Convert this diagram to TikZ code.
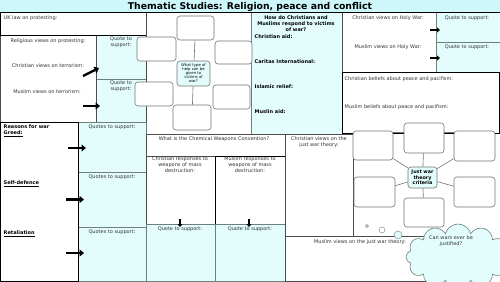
\documentclass[tikz,border=0pt]{standalone}
\usepackage{fontspec}
\setmainfont{DejaVu Sans}
\usetikzlibrary{arrows.meta,shapes.symbols}
\definecolor{cellcyan}{HTML}{E3FDFD}
\definecolor{barcyan}{HTML}{CDF7FA}
\definecolor{edgegrey}{HTML}{6E7F80}

\begin{document}
\begin{tikzpicture}[x=1pt,y=-1pt,
  cell/.style={draw=black!70,line width=0.5pt},
  quote/.style={fill=cellcyan,draw=edgegrey,line width=0.5pt},
  heavy/.style={draw=black,line width=0.9pt},
  txt/.style={font=\fontsize{5}{6}\selectfont,text=black!80,inner sep=0.5pt,align=center},
  btxt/.style={font=\fontsize{5}{6}\selectfont\bfseries,text=black,inner sep=0.5pt,align=center},
  bubble/.style={draw=black!55,line width=0.6pt,rounded corners=3pt,fill=white,inner sep=0pt},
  hub/.style={bubble,fill=cellcyan,align=center,inner sep=0.5pt},
  fatarrow/.style={line width=2.4pt,-{Triangle[length=4.5pt,width=7pt]}},
  thinarrow/.style={line width=1.6pt,-{Triangle[length=3pt,width=5pt]}}]
\useasboundingbox (0,0) rectangle (500,281);
\clip (0,0) rectangle (500,281);
\fill[white] (0,0) rectangle (500,281);
\fill[barcyan] (0,0) rectangle (500,12.5);
\node[font=\fontsize{9.3}{10}\selectfont\bfseries,inner sep=0pt] (title) at (250,6.6) {Thematic Studies: Religion, peace and conflict};

\draw[quote] (96,35) rectangle (146,79);
\draw[quote] (96,79) rectangle (146,122);
\draw[cell] (0,35) rectangle (96,122);
\draw[heavy] (0,12.5) rectangle (146,35);
\draw[cell] (146,12.5) rectangle (251,134);
\draw[quote] (251,12.5) rectangle (342,134);
\draw[cell] (342,12.5) rectangle (436,72);
\draw[quote] (436,12.5) rectangle (500,42);
\draw[quote] (436,42) rectangle (500,72);
\draw[heavy] (342,72) rectangle (499.5,133);
\draw[quote] (78,122) rectangle (146,172);
\draw[quote] (78,172) rectangle (146,227);
\draw[quote] (78,227) rectangle (146,281);
\draw[heavy] (0,122) rectangle (78,281);
\draw[cell] (146,134) rectangle (285,156);
\draw[cell] (146,156) rectangle (215,224);
\draw[heavy] (215,156) rectangle (285,224);
\draw[quote] (146,224) rectangle (215,281);
\draw[quote] (215,224) rectangle (285,281);
\draw[cell] (285,134) rectangle (353,236);
\draw[cell] (285,236) rectangle (435,281);
\draw[line width=0.8pt] (0,12.5) -- (500,12.5);

\node[txt,anchor=west] (uklaw) at (3,18) {UK law on protesting:};
\node[txt] (relprot) at (48,41) {Religious views on protesting:};
\node[txt] (chrterr) at (48,66) {Christian views on terrorism:};
\node[txt] (musterr) at (47,92) {Muslim views on terrorism:};
\node[txt] (q1) at (121,42.5) {Quote to\\support:};
\node[txt] (q2) at (121,86.5) {Quote to\\support:};
\coordinate (a1s) at (83,76);
\coordinate (a1e) at (99,68);
\coordinate (a2s) at (83,106);
\coordinate (a2e) at (100,106);
\draw[fatarrow] (a1s) -- (a1e);
\draw[fatarrow] (a2s) -- (a2e);

\node[bubble,minimum width=37,minimum height=24] (htop) at (195.5,28) {};
\node[bubble,minimum width=39,minimum height=24] (hlt) at (156.5,49) {};
\node[bubble,minimum width=37,minimum height=23] (hrt) at (233.5,52.5) {};
\node[bubble,minimum width=38,minimum height=24] (hlb) at (154,94) {};
\node[bubble,minimum width=37,minimum height=24] (hrb) at (231.5,97) {};
\node[bubble,minimum width=38,minimum height=25] (hbot) at (192,117.5) {};
\node[hub,minimum width=33,minimum height=25,font=\fontsize{3.8}{4}\selectfont] (helphub) at (193.5,73.5) {What type of\\help can be\\given to\\victims of\\war?};
\draw[black!55,line width=0.6pt] (helphub) -- (htop);
\draw[black!55,line width=0.6pt] (helphub) -- (hbot);

\node[btxt] (victims) at (296,24) {How do Christians and\\Muslims respond to victims\\of war?};
\node[btxt,anchor=west] (chraid) at (254,37) {Christian aid:};
\node[btxt,anchor=west] (caritas) at (254,62) {Caritas International:};
\node[btxt,anchor=west] (islrel) at (254,87) {Islamic relief:};
\node[btxt,anchor=west] (musaid) at (254,112) {Muslin aid:};

\node[txt] (chrholy) at (388,18) {Christian views on Holy War:};
\node[txt] (musholy) at (388,47) {Muslim views on Holy War:};
\node[txt] (q3) at (467,18) {Quote to support:};
\node[txt] (q4) at (467,47) {Quote to support:};
\coordinate (a3s) at (430,30);
\coordinate (a3e) at (440,30);
\coordinate (a4s) at (430,58);
\coordinate (a4e) at (440,58);
\draw[thinarrow] (a3s) -- (a3e);
\draw[thinarrow] (a4s) -- (a4e);

\node[txt,anchor=west] (chrpeace) at (344,79) {Christian beliefs about peace and pacifism:};
\node[txt,anchor=west] (muspeace) at (344,107) {Muslim beliefs about peace and pacifism:};

\node[btxt,anchor=west] (reasons) at (3,127) {Reasons for war};
\node[btxt,anchor=west] (greed) at (3,133.5) {\underline{Greed:}};
\node[btxt,anchor=west] (selfdef) at (3,183.5) {\underline{Self-defence}};
\node[btxt,anchor=west] (retal) at (3,233.5) {\underline{Retaliation}};
\node[txt] (q5) at (112,127) {Quotes to support:};
\node[txt] (q6) at (112,177.5) {Quotes to support:};
\node[txt] (q7) at (112,232) {Quotes to support:};
\coordinate (a5s) at (68,148);
\coordinate (a5e) at (86,148);
\coordinate (a6s) at (66,199.5);
\coordinate (a6e) at (84,199.5);
\coordinate (a7s) at (66,253);
\coordinate (a7e) at (84,253);
\draw[fatarrow] (a5s) -- (a5e);
\draw[fatarrow] (a6s) -- (a6e);
\draw[fatarrow] (a7s) -- (a7e);

\node[txt] (cwc) at (214,139.5) {What is the Chemical Weapons Convention?};
\node[txt] (chrwmd) at (180,165) {Christian responses to\\weapons of mass\\destruction:};
\node[txt] (muswmd) at (250,165) {Muslim responses to\\weapons of mass\\destruction:};
\node[txt] (q8) at (180,229.5) {Quote to support:};
\node[txt] (q9) at (250,229.5) {Quote to support:};
\coordinate (a8s) at (180,219);
\coordinate (a8e) at (180,227);
\coordinate (a9s) at (249,219);
\coordinate (a9e) at (249,227);
\draw[thinarrow] (a8s) -- (a8e);
\draw[thinarrow] (a9s) -- (a9e);

\node[txt] (chrjust) at (319,142) {Christian views on the\\just war theory:};
\node[txt] (musjust) at (360,242) {Muslim views on the just war theory:};

\node[bubble,minimum width=40,minimum height=30] (jtop) at (424,138) {};
\node[bubble,minimum width=40,minimum height=29] (jtl) at (373,145.5) {};
\node[bubble,minimum width=41,minimum height=30] (jtr) at (474.5,146) {};
\node[bubble,minimum width=41,minimum height=30] (jml) at (374.5,192) {};
\node[bubble,minimum width=41,minimum height=30] (jmr) at (474.5,192) {};
\node[bubble,minimum width=40,minimum height=29] (jbot) at (424,212.5) {};
\node[hub,minimum width=29,minimum height=21,font=\fontsize{4.8}{4.6}\selectfont\bfseries] (justhub) at (422.5,177.5) {Just war\\theory\\criteria};
\draw[black!55,line width=0.6pt] (justhub) -- (jtop);
\draw[black!55,line width=0.6pt] (justhub) -- (jbot);
\draw[black!55,line width=0.6pt] (justhub) -- (jml);
\draw[black!55,line width=0.6pt] (justhub) -- (jmr);
\draw[black!55,line width=0.6pt] (justhub) -- (jtl);
\draw[black!55,line width=0.6pt] (justhub) -- (jtr);
\draw[black!55,line width=0.6pt] (jtl.east |- jtop.165) -- (jtop.165);
\draw[black!55,line width=0.6pt] (jtop.15) -- (jtr.west |- jtop.15);

\node[circle,draw=edgegrey,fill=white,inner sep=0pt,minimum size=3] (dot1) at (367,226) {};
\node[circle,draw=edgegrey,fill=white,inner sep=0pt,minimum size=6] (dot2) at (382,230) {};
\node[circle,draw=edgegrey,fill=cellcyan,inner sep=0pt,minimum size=8] (dot3) at (398,235) {};
\node[cloud,cloud puffs=12,aspect=1.6,draw=edgegrey,fill=cellcyan,line width=0.6pt,minimum width=104,minimum height=66] (cloud) at (458,257) {};
\node[txt] (wars) at (451,241) {Can wars ever be\\justified?};
\end{tikzpicture}
\end{document}
